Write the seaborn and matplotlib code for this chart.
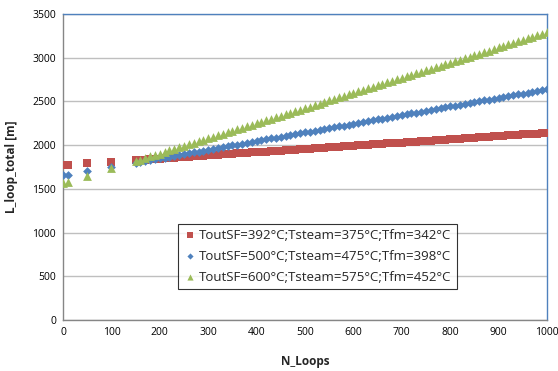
import matplotlib
matplotlib.use("Agg")
import matplotlib.pyplot as plt
import seaborn as sns
import pandas as pd

# ---- data ----
n_loops = [1, 10, 50, 100] + list(range(150, 1001, 10))

red_vals = [1772, 1776, 1790, 1809,
            1827, 1831, 1835, 1838, 1842, 1846, 1849, 1853, 1857, 1860,
            1864, 1868, 1871, 1875, 1879, 1882, 1886, 1890, 1893, 1897,
            1901, 1905, 1908, 1912, 1916, 1919, 1923, 1927, 1930, 1934,
            1938, 1941, 1945, 1949, 1952, 1956, 1960, 1963, 1967, 1971,
            1974, 1978, 1982, 1985, 1989, 1993, 1997, 2000, 2004, 2008,
            2011, 2015, 2019, 2022, 2026, 2030, 2033, 2037, 2041, 2044,
            2048, 2052, 2055, 2059, 2063, 2066, 2070, 2074, 2077, 2081,
            2085, 2089, 2092, 2096, 2100, 2103, 2107, 2111, 2114, 2118,
            2122, 2125, 2129, 2133, 2136, 2140]

blue_vals = [1658, 1664, 1702, 1745,
             1798, 1808, 1818, 1828, 1838, 1848, 1858, 1868, 1878, 1888,
             1898, 1907, 1917, 1927, 1937, 1947, 1957, 1967, 1977, 1987,
             1996, 2006, 2016, 2026, 2036, 2046, 2056, 2066, 2076, 2086,
             2096, 2105, 2115, 2125, 2135, 2145, 2155, 2165, 2175, 2185,
             2194, 2204, 2214, 2224, 2234, 2244, 2254, 2264, 2274, 2284,
             2294, 2303, 2313, 2323, 2333, 2343, 2353, 2363, 2373, 2383,
             2392, 2402, 2412, 2422, 2432, 2442, 2452, 2462, 2472, 2482,
             2492, 2501, 2511, 2521, 2531, 2541, 2551, 2561, 2571, 2581,
             2590, 2600, 2610, 2620, 2630, 2640]

green_vals = [1562, 1575, 1648, 1733,
              1818, 1835, 1852, 1870, 1887, 1904, 1922, 1939, 1956, 1974,
              1991, 2008, 2026, 2043, 2060, 2078, 2095, 2112, 2130, 2147,
              2164, 2182, 2199, 2216, 2234, 2251, 2268, 2285, 2303, 2320,
              2337, 2355, 2372, 2389, 2407, 2424, 2441, 2459, 2476, 2493,
              2511, 2528, 2545, 2563, 2580, 2597, 2615, 2632, 2649, 2667,
              2684, 2701, 2718, 2736, 2753, 2770, 2788, 2805, 2822, 2840,
              2857, 2874, 2892, 2909, 2926, 2944, 2961, 2978, 2996, 3013,
              3030, 3048, 3065, 3082, 3100, 3117, 3134, 3151, 3169, 3186,
              3203, 3221, 3238, 3255, 3273, 3290]

series_names = ["ToutSF=392°C;Tsteam=375°C;Tfm=342°C",
                "ToutSF=500°C;Tsteam=475°C;Tfm=398°C",
                "ToutSF=600°C;Tsteam=575°C;Tfm=452°C"]

x_ticks = list(range(0, 1001, 100))
y_ticks = list(range(0, 3501, 500))

# ---- build table ----
frames = []
for name, vals in zip(series_names, [red_vals, blue_vals, green_vals]):
    frames.append(pd.DataFrame({"N_Loops": n_loops, "L": vals, "series": name}))
df = pd.concat(frames, ignore_index=True)

sns.set_style("white")
plt.rcParams["font.family"] = ["Open Sans", "DejaVu Sans"]

fig = plt.figure(figsize=(5.58, 3.71), dpi=100)
ax = fig.add_axes([0.1129, 0.1375, 0.8674, 0.8248])

colors = ["#C0504D", "#4F81BD", "#9BBB59"]
markers = ["s", "D", "^"]
sizes = [40, 20, 40]
for name, c, m, s in zip(series_names, colors, markers, sizes):
    sub = df[df["series"] == name]
    sns.scatterplot(data=sub, x="N_Loops", y="L", ax=ax, color=c, marker=m,
                    s=s, linewidth=0, label=name, zorder=3)

ax.set_xlim(0, 1000)
ax.set_ylim(0, 3500)
ax.set_xticks(x_ticks)
ax.set_yticks(y_ticks)
ax.tick_params(axis="both", labelsize=7.5, colors="#595959", length=3,
               direction="out", width=0.8, labelcolor="black", pad=2)
ax.yaxis.grid(True, color="#BFBFBF", linewidth=1.0, zorder=0)
ax.xaxis.grid(False)
ax.set_axisbelow(True)

for side in ["left", "bottom"]:
    ax.spines[side].set_color("#868686")
    ax.spines[side].set_linewidth(1.0)
for side in ["top", "right"]:
    ax.spines[side].set_visible(True)
    ax.spines[side].set_color("#4F81BD")
    ax.spines[side].set_linewidth(1.0)

ax.set_xlabel("N_Loops", fontsize=8.5, fontweight="bold", labelpad=12)
ax.set_ylabel("L_loop_total [m]", fontsize=8.5, fontweight="bold", labelpad=10)

leg = ax.legend(loc="lower left", bbox_to_anchor=(0.224, 0.08), fontsize=9.5,
                frameon=True, fancybox=False, edgecolor="black",
                handletextpad=0.2, borderpad=0.4, labelspacing=0.6,
                handlelength=1.0, markerscale=0.7)
leg.get_frame().set_linewidth(0.8)

fig.savefig("out.png", dpi=100)
